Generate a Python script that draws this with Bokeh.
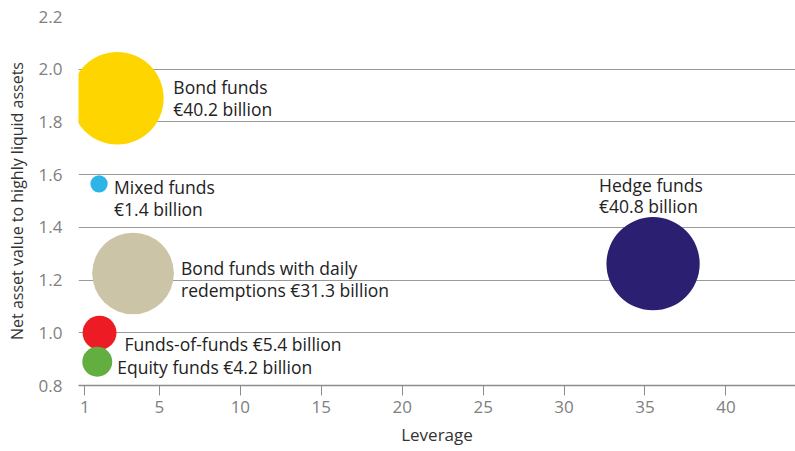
import math
from bokeh.plotting import figure
from bokeh.models import ColumnDataSource, FixedTicker, Range1d
from bokeh.core.properties import value
from bokeh.embed import file_html
from bokeh.resources import INLINE

# ---- data ----
funds = ["Bond funds", "Mixed funds", "Bond funds with daily redemptions",
         "Funds-of-funds", "Equity funds", "Hedge funds"]
leverage = [2.4, 1.27, 3.37, 1.30, 1.16, 35.5]
nav_to_liquid = [1.89, 1.565, 1.225, 1.0, 0.89, 1.262]
assets_bn = [40.2, 1.4, 31.3, 5.4, 4.2, 40.8]
label_lines = [["Bond funds", "€40.2 billion"],
               ["Mixed funds", "€1.4 billion"],
               ["Bond funds with daily", "redemptions €31.3 billion"],
               ["Funds-of-funds €5.4 billion"],
               ["Equity funds €4.2 billion"],
               ["Hedge funds", "€40.8 billion"]]
x_tick_labels = ["1", "5", "10", "15", "20", "25", "30", "35", "40"]
x_tick_values = [0.4, 5, 10, 15, 20, 25, 30, 35, 40]
y_ticks = [0.8, 1.0, 1.2, 1.4, 1.6, 1.8, 2.0, 2.2]

# ---- styles ----
colors = ["#FFD500", "#2CB5E6", "#CCC4A7", "#ED1C24", "#62AE41", "#2B1F72"]
bubble_scale = 7.3  # px radius per sqrt(bn)
label_dx = [56, 15, 48, 25, 20, -54]
label_dy = [[-11.5, 11], [3.5, 25], [-5, 16.5], [11], [5], [-79, -57.5]]
FONT = "Open Sans"

src = ColumnDataSource(dict(
    x=leverage, y=nav_to_liquid, color=colors,
    size=[2 * bubble_scale * math.sqrt(v) for v in assets_bn],
))

lx, ly, lt, ldx, ldy = [], [], [], [], []
for i, lines in enumerate(label_lines):
    for j, line in enumerate(lines):
        lx.append(leverage[i]); ly.append(nav_to_liquid[i]); lt.append(line)
        ldx.append(label_dx[i]); ldy.append(label_dy[i][j])
lab = ColumnDataSource(dict(x=lx, y=ly, text=lt, dx=ldx, dy=ldy))

p = figure(frame_width=717, frame_height=369, output_backend="svg", toolbar_location=None,
           x_range=Range1d(0, 44.3), y_range=Range1d(0.8, 2.2),
           min_border_left=78, min_border_right=0, min_border_top=16,
           min_border_bottom=66)
p.outline_line_color = None
p.background_fill_color = "white"
p.border_fill_color = "white"

p.scatter(x="x", y="y", size="size", fill_color="color", line_color=None, source=src)
p.text(x="x", y="y", text="text", x_offset="dx", y_offset="dy", source=lab,
       text_align="left", text_baseline="middle",
       text_font=value(FONT), text_font_size=value("17.5px"), text_color="#222222")

# grid
p.xgrid.grid_line_color = None
p.ygrid.grid_line_color = "#9a9a9a"
p.ygrid.grid_line_width = 1
p.ygrid.ticker = FixedTicker(ticks=y_ticks)

# x axis
xa = p.xaxis[0]
xa.ticker = FixedTicker(ticks=x_tick_values)
xa.major_label_overrides = {v: l for v, l in zip(x_tick_values, x_tick_labels)}
xa.axis_line_color = "#8c8c8c"
xa.axis_line_width = 1.5
xa.major_tick_line_color = "#8c8c8c"
xa.major_tick_out = 10
xa.major_tick_in = 0
xa.minor_tick_line_color = None
xa.minor_tick_out = 0
xa.major_label_text_color = "#808080"
xa.major_label_text_font = FONT
xa.major_label_text_font_size = "17px"
xa.major_label_standoff = 5
xa.axis_label = "Leverage"
xa.axis_label_text_font = FONT
xa.axis_label_text_font_size = "17px"
xa.axis_label_text_font_style = "normal"
xa.axis_label_text_color = "#333333"
xa.axis_label_standoff = 7

# y axis
ya = p.yaxis[0]
ya.ticker = FixedTicker(ticks=y_ticks)
ya.major_label_overrides = {v: f"{v:.1f}" for v in y_ticks}
ya.axis_line_color = None
ya.major_tick_line_color = None
ya.major_tick_out = 0
ya.major_tick_in = 0
ya.minor_tick_line_color = None
ya.minor_tick_out = 0
ya.major_label_text_color = "#808080"
ya.major_label_text_font = FONT
ya.major_label_text_font_size = "17px"
ya.major_label_standoff = 16
ya.axis_label = "Net asset value to highly liquid assets"
ya.axis_label_text_font = FONT
ya.axis_label_text_font_size = "16px"
ya.axis_label_text_font_style = "normal"
ya.axis_label_text_color = "#333333"
ya.axis_label_standoff = 8

open("out.html", "w").write(file_html(p, INLINE))
